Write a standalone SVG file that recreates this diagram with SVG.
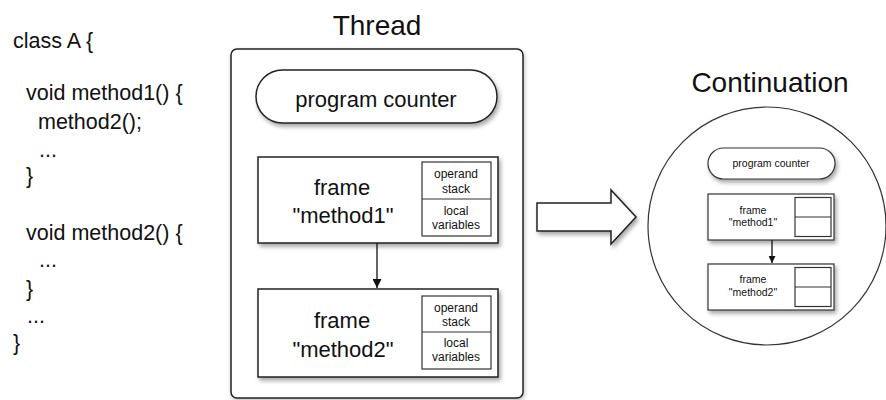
<svg xmlns="http://www.w3.org/2000/svg" width="886" height="400" viewBox="0 0 886 400">
  <defs>
    <filter id="shadow" x="-10%" y="-10%" width="130%" height="140%">
      <feDropShadow dx="2" dy="3" stdDeviation="2" flood-color="#000" flood-opacity="0.35"/>
    </filter>
    <filter id="softShadow" x="-10%" y="-10%" width="130%" height="130%">
      <feDropShadow dx="1" dy="2" stdDeviation="2" flood-color="#000" flood-opacity="0.25"/>
    </filter>
    <marker id="arrowHead" viewBox="0 0 10 10" refX="10" refY="5" markerWidth="9" markerHeight="9" markerUnits="userSpaceOnUse" orient="auto">
      <path d="M0,0 L10,5 L0,10 Z" fill="#111"/>
    </marker>
    <marker id="arrowHeadSmall" viewBox="0 0 10 10" refX="10" refY="5" markerWidth="7" markerHeight="7" markerUnits="userSpaceOnUse" orient="auto">
      <path d="M0,0 L10,5 L0,10 Z" fill="#111"/>
    </marker>
  </defs>
  <style>
    text { font-family: "Liberation Sans", Arial, sans-serif; fill: #111; }
    .code { font-size: 21.5px; }
    .title { font-size: 28px; text-anchor: middle; }
    .big { font-size: 22px; text-anchor: middle; }
    .cell { font-size: 12px; text-anchor: middle; }
    .tiny { font-size: 10.5px; text-anchor: middle; }
    .box { fill: #fff; stroke: #222; stroke-width: 1.5; }
    .thin { fill: #fff; stroke: #333; stroke-width: 1.2; }
    .conn { fill: none; stroke: #111; stroke-width: 1.3; }
  </style>

  <rect width="886" height="400" fill="#fff"/>

  <!-- source listing -->
  <g id="code">
    <text class="code" x="13" y="48">class A {</text>
    <text class="code" x="26" y="100">void method1() {</text>
    <text class="code" x="38" y="129">method2();</text>
    <text class="code" x="39" y="157">...</text>
    <text class="code" x="26" y="183">}</text>
    <text class="code" x="26" y="240">void method2() {</text>
    <text class="code" x="39" y="267">...</text>
    <text class="code" x="26" y="296">}</text>
    <text class="code" x="27" y="323">...</text>
    <text class="code" x="13" y="350">}</text>
  </g>

  <!-- thread container -->
  <g id="thread">
    <text class="title" x="377" y="35">Thread</text>
    <rect class="box" x="231" y="49" width="292" height="349" rx="6" filter="url(#softShadow)"/>
  </g>

  <g id="pc">
    <rect class="box" x="256" y="70" width="241" height="53" rx="26.5" filter="url(#shadow)"/>
    <text class="big" x="376" y="107">program counter</text>
  </g>

  <g id="frame1">
    <rect class="box" x="258" y="157" width="240" height="86" filter="url(#shadow)"/>
    <rect class="thin" x="422" y="162" width="69" height="74"/>
    <line x1="422" y1="199" x2="491" y2="199" stroke="#333" stroke-width="1.2"/>
    <text class="cell" x="456" y="178">operand</text>
    <text class="cell" x="456" y="193">stack</text>
    <text class="cell" x="456" y="215">local</text>
    <text class="cell" x="456" y="229">variables</text>
    <text class="big" x="342" y="195">frame</text>
    <text class="big" x="343" y="223">"method1"</text>
  </g>

  <g id="frame2">
    <rect class="box" x="258" y="289" width="240" height="88" filter="url(#shadow)"/>
    <rect class="thin" x="422" y="296" width="69" height="73"/>
    <line x1="422" y1="332" x2="491" y2="332" stroke="#333" stroke-width="1.2"/>
    <text class="cell" x="456" y="312">operand</text>
    <text class="cell" x="456" y="326">stack</text>
    <text class="cell" x="456" y="347">local</text>
    <text class="cell" x="456" y="361">variables</text>
    <text class="big" x="342" y="328">frame</text>
    <text class="big" x="343" y="357">"method2"</text>
  </g>

  <!-- block arrow: thread captured as continuation -->
  <g id="capture">
    <path class="box" d="M537,203 L611,203 L611,190 L636,217 L611,244 L611,231 L537,231 Z" filter="url(#shadow)"/>
  </g>

  <!-- continuation -->
  <g id="continuation">
    <text class="title" x="770" y="92">Continuation</text>
    <circle cx="767" cy="226" r="119" fill="#fff" stroke="#333" stroke-width="1.2"/>
  </g>

  <g id="cpc">
    <rect class="thin" x="708" y="148" width="127" height="31" rx="15.5" filter="url(#shadow)"/>
    <text class="tiny" x="771" y="167">program counter</text>
  </g>

  <g id="cframe1">
    <rect class="thin" x="708" y="194" width="126" height="46" filter="url(#shadow)"/>
    <rect class="thin" x="795" y="197.5" width="36" height="39"/>
    <line x1="795" y1="217" x2="831" y2="217" stroke="#333" stroke-width="1.2"/>
    <text class="tiny" x="753" y="214">frame</text>
    <text class="tiny" x="753" y="226">"method1"</text>
  </g>

  <g id="cframe2">
    <rect class="thin" x="708" y="264" width="126" height="46" filter="url(#shadow)"/>
    <rect class="thin" x="795" y="267.5" width="36" height="39"/>
    <line x1="795" y1="287" x2="831" y2="287" stroke="#333" stroke-width="1.2"/>
    <text class="tiny" x="753" y="283">frame</text>
    <text class="tiny" x="753" y="296">"method2"</text>
  </g>

  <g id="connectors">
    <line class="conn" x1="377" y1="243" x2="377" y2="288" marker-end="url(#arrowHead)"/>
    <line class="conn" x1="772" y1="240" x2="772" y2="263" marker-end="url(#arrowHeadSmall)"/>
  </g>
</svg>
